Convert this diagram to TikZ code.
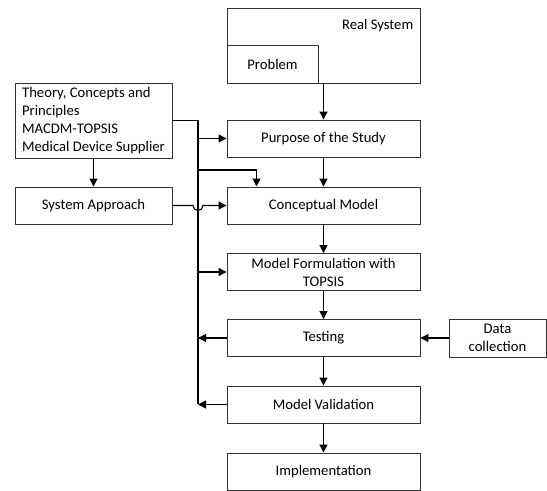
\documentclass[tikz,border=0pt]{standalone}
\usepackage{fontspec}
\setmainfont{Carlito}
\usepackage{tikz}
\usepackage{xcolor}
\usetikzlibrary{arrows.meta, positioning, calc}
\definecolor{borde}{HTML}{333333}

\begin{document}
\begin{tikzpicture}[
  x=0.75pt, y=-0.75pt,
  font=\fontsize{11}{13.5}\selectfont,
  paso/.style={rectangle, draw=borde, line width=0.7pt, fill=white,
               minimum width=144.75pt, minimum height=27.75pt, align=center, inner sep=2pt},
  lateral/.style={rectangle, draw=borde, line width=0.7pt, fill=white,
               minimum width=117.75pt, minimum height=27.75pt, align=center, inner sep=2pt},
  arr/.style={-{Triangle[length=6pt, width=6pt]}, line width=0.8pt, black},
  lin/.style={line width=0.8pt, black},
]
\useasboundingbox (0,0) rectangle (547,491);

% --- Sistema real ---
\node[paso, minimum height=56.25pt,
      label={[anchor=north east, inner sep=5.25pt, yshift=-3.5pt]north east:Real System}]
      (real) at (323.5,45.5) {};
\node[paso, minimum width=68.25pt, minimum height=28.5pt] (prob) at (272.5,64) {Problem};

% --- Columna principal ---
\node[paso] (purp) at (323.5,138.5) {Purpose of the Study};
\node[paso] (conc) at (323.5,205.5) {Conceptual Model};
\node[paso] (form) at (323.5,272)   {Model Formulation with\\TOPSIS};
\node[paso] (test) at (323.5,338)   {Testing};
\node[paso] (val)  at (323.5,404.5) {Model Validation};
\node[paso] (impl) at (323.5,471.5) {Implementation};

% --- Entradas laterales ---
\node[lateral, minimum height=56.25pt, align=left, inner sep=3pt]
      (teo) at (93.5,120.5) {Theory, Concepts and\\Principles\\MACDM-TOPSIS\\Medical Device Supplier};
\node[lateral] (sis) at (93.5,205.5) {System Approach};
\node[paso, minimum width=72.75pt, minimum height=28.5pt] (datos) at (497.5,338) {Data\\collection};
\coordinate (spine) at (198,0);
\coordinate (brk) at (198,170);

% --- Flujo vertical ---
\draw[arr] (real.south) -- (purp.north);
\draw[arr] (purp) -- (conc);
\draw[arr] (conc) -- (form);
\draw[arr] (form) -- (test);
\draw[arr] (test) -- (val);
\draw[arr] (val) -- (impl);
\draw[arr] (teo) -- (sis);

% --- Linea de retroalimentacion ---
\draw[lin] (teo.east) -| (spine |- val.west);
\draw[arr] (purp.west -| spine) -- (purp.west);
\draw[arr] (brk) -| ([xshift=22.5pt]conc.north west);
\draw[arr] (form.west -| spine) -- (form.west);
\draw[arr] (test.west) -- (test.west -| spine);
\draw[arr] (val.west) -- (val.west -| spine);
\draw[arr] (datos) -- (test);

% --- Salto sobre la linea ---
\draw[arr] (sis.east) -- ($(sis.east -| spine)+(-5,0)$)
  arc[start angle=180, end angle=360, radius=3.75pt] -- (conc.west);

\end{tikzpicture}
\end{document}
